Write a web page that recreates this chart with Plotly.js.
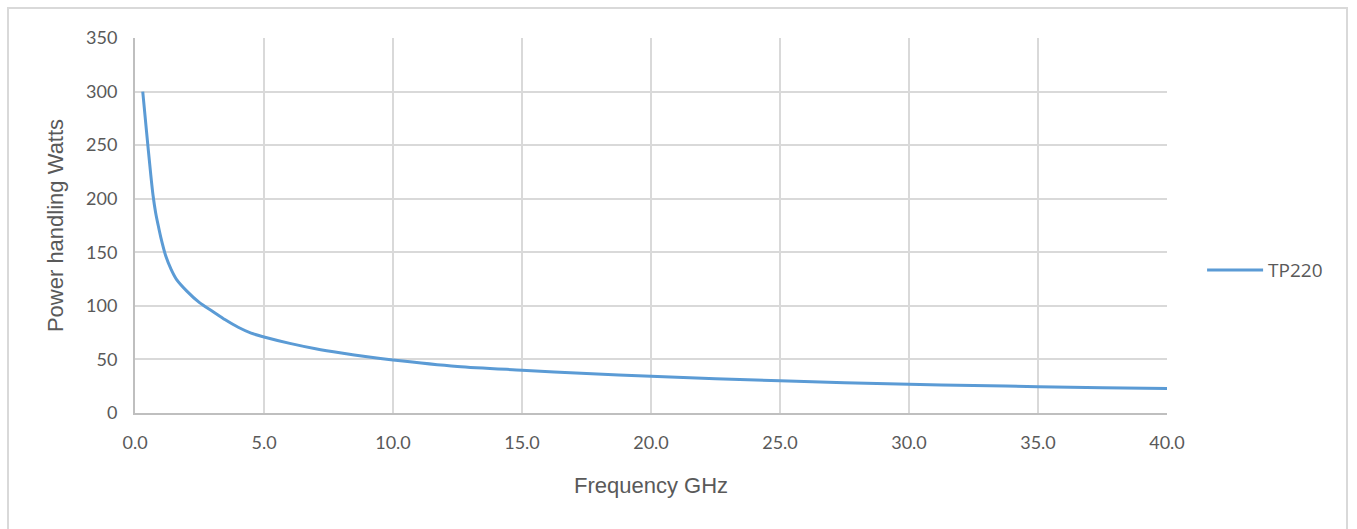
<!DOCTYPE html>
<html>
<head>
<meta charset="utf-8">
<script src="https://cdn.plot.ly/plotly-3.0.1.min.js"></script>
<style>
  html, body { margin: 0; padding: 0; background: #fff; }
  #wrap { position: relative; width: 1357px; height: 529px; }
  #frame { position: absolute; left: 7px; top: 7px; width: 1341px; height: 530px; border: 2px solid #d9d9d9; box-sizing: border-box; pointer-events: none; z-index: 5; }
  #chart { position: absolute; left: 0; top: 0; width: 1357px; height: 529px; }
</style>
</head>
<body>
<div id="wrap">
  <div id="chart"></div>
  <div id="frame"></div>
</div>
<script>
const seriesName = "TP220";
const frequencyGHz = [0.3, 0.45, 0.6, 0.7, 0.8, 0.9, 1.0, 1.2, 1.4, 1.6, 2.0, 2.5, 3.0, 3.5, 4.0, 4.5, 5.0, 6.0, 7.0, 8.0, 9.0, 10.0, 12.5, 15.0, 17.5, 20.0, 22.5, 25.0, 27.5, 30.0, 32.5, 35.0, 37.5, 40.0];
const powerWatts   = [300, 262, 225, 203, 187, 175, 164, 146, 134, 125, 114, 103, 95, 87, 80, 74.5, 71, 65, 60, 56, 52.5, 49.5, 43.5, 40, 36.8, 34.2, 32, 30, 28.3, 26.8, 25.6, 24.6, 23.6, 22.8];
const xTickVals = [0, 5, 10, 15, 20, 25, 30, 35, 40];
const yTickVals = [0, 50, 100, 150, 200, 250, 300, 350];

const trace = {
  x: frequencyGHz,
  y: powerWatts,
  type: 'scatter',
  mode: 'lines',
  name: seriesName,
  line: { color: '#5b9bd5', width: 3, shape: 'spline', smoothing: 0.8 }
};

const tickFont = { family: 'Lato, "Open Sans", sans-serif', size: 18, color: '#595959' };
const titleFont = { family: '"Liberation Sans", Arial, sans-serif', size: 22, color: '#595959' };

const layout = {
  width: 1357, height: 529,
  margin: { l: 135, r: 190, t: 38, b: 116, autoexpand: false },
  paper_bgcolor: '#ffffff',
  plot_bgcolor: '#ffffff',
  showlegend: true,
  legend: {
    x: 1.034, y: 0.381, xanchor: 'left', yanchor: 'middle',
    itemwidth: 56,
    font: { family: '"Open Sans", sans-serif', size: 19, color: '#595959' },
    bgcolor: 'rgba(0,0,0,0)'
  },
  xaxis: {
    range: [0, 40],
    tickvals: xTickVals,
    tickformat: '.1f',
    showgrid: true, gridcolor: '#d9d9d9', gridwidth: 2,
    showline: true, linecolor: '#bfbfbf', linewidth: 2,
    zeroline: false,
    ticks: '',
    ticklabelstandoff: 12,
    tickfont: tickFont,
    title: { text: 'Frequency GHz', font: titleFont, standoff: 26 }
  },
  yaxis: {
    range: [0, 350],
    tickvals: yTickVals,
    showgrid: true, gridcolor: '#d9d9d9', gridwidth: 2,
    showline: true, linecolor: '#bfbfbf', linewidth: 2,
    zeroline: false,
    ticks: '',
    ticklabelstandoff: 12,
    tickfont: tickFont,
    title: { text: 'Power handling Watts', font: titleFont, standoff: 16 }
  }
};

Plotly.newPlot('chart', [trace], layout, { displayModeBar: false, staticPlot: true });
</script>
</body>
</html>
